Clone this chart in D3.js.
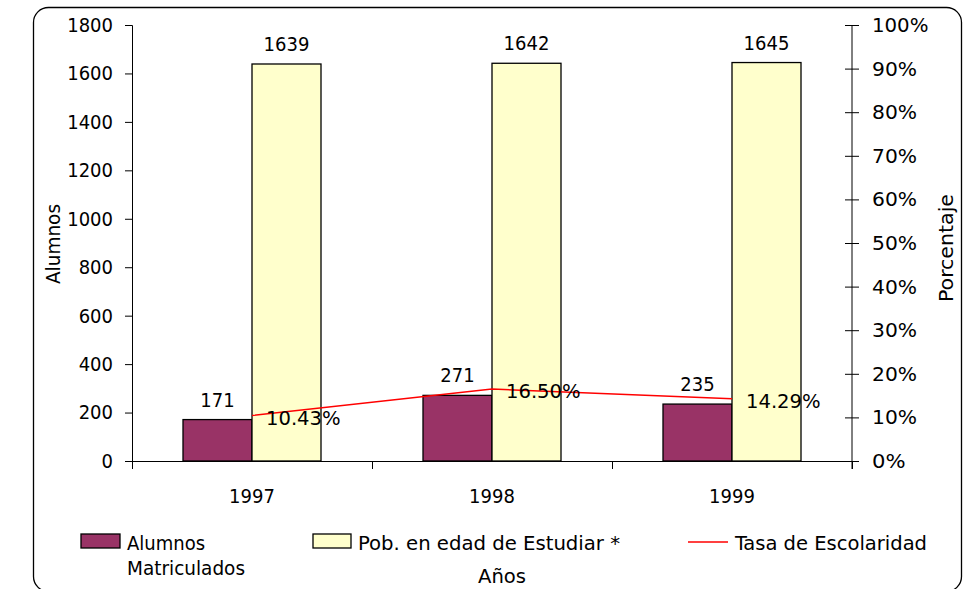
<!DOCTYPE html>
<html>
<head>
<meta charset="utf-8">
<script src="https://cdn.jsdelivr.net/npm/d3@7"></script>
<style>
  html, body { margin: 0; padding: 0; background: #fff; }
  svg text { font-family: 'DejaVu Sans Condensed', 'DejaVu Sans', sans-serif; fill: #000; }
</style>
</head>
<body>
<svg id="chart" width="969" height="589"></svg>
<script>
const years = ["1997", "1998", "1999"];
const alumnos = [171, 271, 235];
const poblacion = [1639, 1642, 1645];
const tasa = [10.43, 16.50, 14.29];
const leftTicks = [0, 200, 400, 600, 800, 1000, 1200, 1400, 1600, 1800];
const rightTicks = [0, 10, 20, 30, 40, 50, 60, 70, 80, 90, 100];
const seriesNames = ["Alumnos Matriculados", "Pob. en edad de Estudiar *", "Tasa de Escolaridad"];

const svg = d3.select("#chart");
const FS = 20;
const margin = { left: 132, right: 852, top: 25, bottom: 461 };

// widen text (reference font is wider for letters and % sign)
function widen(sel, factor, extraPct) {
  sel.each(function () {
    const w = this.getComputedTextLength();
    const t = this.textContent;
    const nPct = (t.match(/%/g) || []).length;
    this.setAttribute("textLength", w * factor + nPct * extraPct);
    this.setAttribute("lengthAdjust", "spacingAndGlyphs");
  });
}

// outer frame (bottom edge falls just outside the picture)
svg.append("rect")
  .attr("x", 33.5).attr("y", 7.5).attr("width", 928).attr("height", 584)
  .attr("rx", 15).attr("ry", 15)
  .attr("fill", "#fff").attr("stroke", "#000").attr("stroke-width", 1.3);

const x = d3.scaleBand().domain(years).range([margin.left, margin.right]);
const yL = d3.scaleLinear().domain([0, 1800]).range([margin.bottom, margin.top]);
const yR = d3.scaleLinear().domain([0, 100]).range([margin.bottom, margin.top]);

const barW = 69;
const g = svg.append("g");

// bars
g.selectAll(".bar1").data(years).enter().append("rect")
  .attr("x", d => x(d) + x.bandwidth() / 2 - barW)
  .attr("y", (d, i) => yL(alumnos[i]))
  .attr("width", barW)
  .attr("height", (d, i) => yL(0) - yL(alumnos[i]))
  .attr("fill", "#993366").attr("stroke", "#000").attr("stroke-width", 1.3);

g.selectAll(".bar2").data(years).enter().append("rect")
  .attr("x", d => x(d) + x.bandwidth() / 2)
  .attr("y", (d, i) => yL(poblacion[i]))
  .attr("width", barW)
  .attr("height", (d, i) => yL(0) - yL(poblacion[i]))
  .attr("fill", "#FFFFCC").attr("stroke", "#000").attr("stroke-width", 1.3);

// axes
const axisL = d3.axisLeft(yL).tickValues(leftTicks).tickSize(7).tickPadding(12).tickFormat(d3.format("d"));
const gL = svg.append("g").attr("transform", `translate(${margin.left},0)`).call(axisL);
gL.select(".domain").attr("stroke", "#000").attr("stroke-width", 1);
gL.selectAll("text").attr("font-size", FS).style("font-family", "'DejaVu Sans Condensed', 'DejaVu Sans', sans-serif");

const axisR = d3.axisRight(yR).tickValues(rightTicks).tickSize(7).tickPadding(13).tickFormat(d => d + "%");
const gR = svg.append("g").attr("transform", `translate(${margin.right},0)`).call(axisR);
gR.select(".domain").attr("d", `M0,${margin.top}V${margin.bottom + 8}`).attr("stroke", "#000");
gR.selectAll(".tick line").attr("x1", -7);
gR.selectAll("text").attr("font-size", FS).style("font-family", "'DejaVu Sans Condensed', 'DejaVu Sans', sans-serif");
widen(gR.selectAll("text"), 1.0, 5);

// x axis
const gX = svg.append("g");
gX.append("line").attr("x1", margin.left).attr("x2", margin.right)
  .attr("y1", margin.bottom + 0.5).attr("y2", margin.bottom + 0.5).attr("stroke", "#000");
const boundaries = years.map(d => x(d)).concat([x(years[years.length - 1]) + x.bandwidth()]);
gX.selectAll(".xt").data(boundaries).enter().append("line")
  .attr("x1", d => d + 0.5).attr("x2", d => d + 0.5)
  .attr("y1", margin.bottom).attr("y2", margin.bottom + 8).attr("stroke", "#000");
gX.selectAll(".xl").data(years).enter().append("text")
  .attr("x", d => x(d) + x.bandwidth() / 2).attr("y", 503)
  .attr("text-anchor", "middle").attr("font-size", FS).text(d => d);

// line
const line = d3.line().x((d, i) => x(years[i]) + x.bandwidth() / 2).y(d => yR(d));
svg.append("path").datum(tasa).attr("d", line)
  .attr("fill", "none").attr("stroke", "#FF0000").attr("stroke-width", 1.4);

// value labels
svg.selectAll(".lab1").data(years).enter().append("text")
  .attr("x", d => x(d) + x.bandwidth() / 2 - barW / 2)
  .attr("y", (d, i) => yL(alumnos[i]) - 13)
  .attr("text-anchor", "middle").attr("font-size", FS).text((d, i) => alumnos[i]);
svg.selectAll(".lab2").data(years).enter().append("text")
  .attr("x", d => x(d) + x.bandwidth() / 2 + barW / 2)
  .attr("y", (d, i) => yL(poblacion[i]) - 13)
  .attr("text-anchor", "middle").attr("font-size", FS).text((d, i) => poblacion[i]);
const pctLabels = svg.selectAll(".lab3").data(years).enter().append("text")
  .attr("x", d => x(d) + x.bandwidth() / 2 + 14)
  .attr("y", (d, i) => yR(tasa[i]) + 9)
  .attr("font-size", FS).text((d, i) => tasa[i].toFixed(2) + "%");
widen(pctLabels, 1.0, 6);

// axis titles
svg.append("text").attr("transform", "translate(60,244) rotate(-90)")
  .attr("text-anchor", "middle").attr("font-size", FS).text("Alumnos")
  .attr("textLength", 80).attr("lengthAdjust", "spacingAndGlyphs");
svg.append("text").attr("transform", "translate(953,248) rotate(-90)")
  .attr("text-anchor", "middle").attr("font-size", FS).text("Porcentaje")
  .attr("textLength", 108).attr("lengthAdjust", "spacingAndGlyphs");
svg.append("text").attr("x", 502).attr("y", 583)
  .attr("text-anchor", "middle").attr("font-size", FS).text("Años")
  .attr("textLength", 48).attr("lengthAdjust", "spacingAndGlyphs");

// legend
const lg = svg.append("g");
lg.append("rect").attr("x", 81).attr("y", 534).attr("width", 39).attr("height", 14)
  .attr("fill", "#993366").attr("stroke", "#000").attr("stroke-width", 1.3);
lg.append("text").attr("x", 127).attr("y", 550).attr("font-size", FS).text(seriesNames[0].split(" ")[0]);
lg.append("text").attr("x", 127).attr("y", 575).attr("font-size", FS).text(seriesNames[0].split(" ")[1])
  .attr("textLength", 118).attr("lengthAdjust", "spacingAndGlyphs");
lg.append("rect").attr("x", 313).attr("y", 534).attr("width", 38).attr("height", 14)
  .attr("fill", "#FFFFCC").attr("stroke", "#000").attr("stroke-width", 1.3);
lg.append("text").attr("x", 358).attr("y", 550).attr("font-size", FS).text(seriesNames[1])
  .attr("textLength", 262).attr("lengthAdjust", "spacingAndGlyphs");
lg.append("line").attr("x1", 688).attr("x2", 728).attr("y1", 542).attr("y2", 542)
  .attr("stroke", "#FF0000").attr("stroke-width", 1.3);
lg.append("text").attr("x", 735).attr("y", 550).attr("font-size", FS).text(seriesNames[2])
  .attr("textLength", 192).attr("lengthAdjust", "spacingAndGlyphs");
</script>
</body>
</html>
